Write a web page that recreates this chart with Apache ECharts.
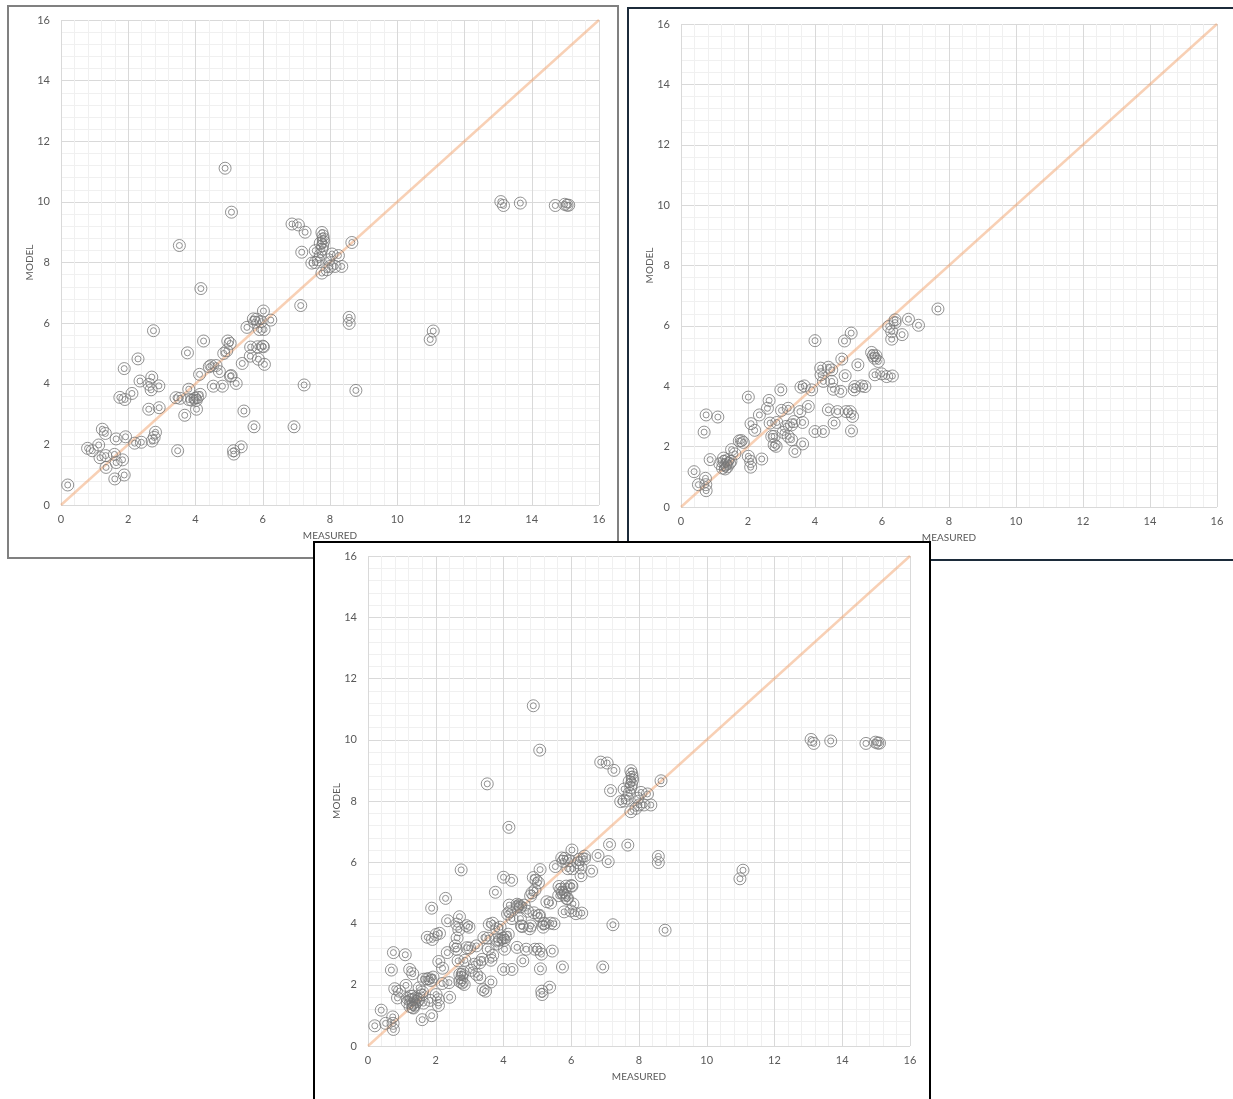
<!DOCTYPE html>
<html>
<head>
<meta charset="utf-8">
<script src="https://cdn.jsdelivr.net/npm/echarts@6/dist/echarts.min.js"></script>
<style>
  html, body { margin: 0; padding: 0; background: #ffffff; width: 1233px; height: 1099px; overflow: hidden; }
  .panel { position: absolute; box-sizing: border-box; background: #ffffff; }
  #p1 { left: 7px; top: 5px; width: 612px; height: 554px; border: 2px solid #808080; z-index: 1; }
  #p2 { left: 627px; top: 7px; width: 620px; height: 554px; border: 2px solid #1c2b3a; z-index: 1; }
  #p3 { left: 313px; top: 541px; width: 618px; height: 570px; border: 2px solid #000000; z-index: 2; }
</style>
</head>
<body>
<div id="p1" class="panel"></div>
<div id="p2" class="panel"></div>
<div id="p3" class="panel"></div>
<script>
// Tick labels (both axes)
const tickValues = [0, 2, 4, 6, 8, 10, 12, 14, 16];
const xTitle = 'MEASURED';
const yTitle = 'MODEL';
// 1:1 reference line
const lineData = [[0, 0], [16, 16]];

// Top-left panel: [measured, model]
const data1 = [
  [0.2,0.66],[0.79,1.87],[0.93,1.79],[1.12,1.98],[1.16,1.56],[1.23,2.5],[1.32,2.36],[1.33,1.63],[1.34,1.24],
  [1.59,1.67],[1.6,0.86],[1.64,1.4],[1.64,2.18],[1.83,1.49],[1.88,0.99],[1.88,4.5],[1.75,3.55],[1.9,3.48],
  [1.92,2.25],[2.11,3.68],[2.19,2.04],[2.29,4.82],[2.35,4.09],[2.39,2.07],[2.61,3.16],[2.62,3.98],[2.7,4.22],
  [2.68,3.8],[2.71,2.11],[2.75,5.75],[2.77,2.23],[2.81,2.4],[2.91,3.93],[2.92,3.21],[3.47,1.79],[3.42,3.54],
  [3.54,3.52],[3.68,2.96],[3.76,5.02],[3.8,3.82],[3.8,3.48],[3.89,3.46],[3.99,3.52],[4.03,3.16],[4.06,3.55],
  [4.14,3.65],[4.02,3.45],[4.12,4.31],[4.16,7.14],[4.24,5.41],[4.41,4.56],[4.46,4.6],[4.53,3.92],[4.61,4.6],
  [4.71,4.4],[4.8,3.92],[4.84,5.0],[4.93,5.09],[4.96,5.41],[5.03,5.33],[5.04,4.25],[5.06,4.27],[5.21,4.01],
  [5.13,1.79],[5.14,1.68],[5.36,1.92],[5.44,3.1],[5.39,4.67],[5.53,5.86],[5.63,4.91],[5.64,5.21],[5.72,6.14],
  [5.76,6.03],[5.82,6.13],[5.85,5.22],[5.87,4.81],[5.74,2.58],[5.9,5.79],[6.02,6.4],[6.04,5.79],[6.02,5.22],
  [6.05,4.64],[6.24,6.1],[5.95,6.05],[6.0,5.24],[6.93,2.58],[7.13,6.58],[7.23,3.96],[8.57,6.19],[8.57,5.99],
  [8.77,3.78],[11.07,5.74],[10.98,5.46],[4.88,11.11],[5.07,9.66],[3.52,8.56],[6.87,9.27],[7.06,9.24],[7.26,9.0],
  [7.16,8.34],[7.46,7.98],[7.56,8.0],[7.76,8.99],[7.79,8.88],[7.71,8.64],[7.81,8.69],[7.56,8.39],[7.76,8.44],
  [7.71,8.25],[8.06,8.28],[8.25,8.23],[7.66,8.09],[7.96,8.09],[8.0,7.87],[8.15,7.87],[8.35,7.87],[7.76,7.65],
  [7.91,7.76],[8.65,8.66],[7.78,8.55],[7.8,8.78],[13.08,10.01],[13.16,9.88],[13.66,9.96],[14.7,9.88],
  [14.98,9.92],[15.05,9.89],[15.1,9.89]
];

// Top-right panel: [measured, model]
const data2 = [
  [0.39,1.17],[0.52,0.74],[0.69,2.48],[0.75,3.05],[0.73,0.95],[0.74,0.74],[0.75,0.54],[0.87,1.57],[1.1,2.98],
  [1.16,1.43],[1.24,1.29],[1.29,1.51],[1.34,1.4],[1.41,1.57],[1.32,1.26],[1.27,1.62],[1.38,1.33],[1.45,1.45],
  [1.51,1.9],[1.61,1.76],[1.49,1.51],[1.74,2.19],[1.86,2.14],[1.8,2.2],[2.01,3.64],[2.01,1.68],[2.09,2.76],
  [2.08,1.51],[2.08,1.32],[2.2,2.54],[2.34,3.05],[2.41,1.59],[2.58,3.27],[2.63,3.53],[2.66,2.78],[2.71,2.34],
  [2.78,2.34],[2.78,2.06],[2.84,2.01],[2.86,2.8],[2.98,3.88],[3.0,3.2],[3.05,2.47],[3.14,2.67],[3.2,3.27],
  [3.2,2.34],[3.3,2.23],[3.3,2.72],[3.37,2.83],[3.4,1.84],[3.55,3.16],[3.58,3.97],[3.63,2.8],[3.63,2.09],
  [3.68,4.01],[3.8,3.33],[3.9,3.88],[4.0,5.51],[4.0,2.5],[4.25,2.5],[4.17,4.6],[4.18,4.38],[4.25,4.16],
  [4.4,3.22],[4.4,4.63],[4.5,4.54],[4.5,4.16],[4.55,3.9],[4.57,2.78],[4.67,3.16],[4.77,3.83],[4.8,4.9],
  [4.88,5.5],[4.9,4.35],[4.93,3.16],[5.08,5.76],[5.05,3.16],[5.12,3.0],[5.09,2.52],[5.17,3.88],[5.19,3.99],
  [5.28,4.71],[5.39,4.01],[5.49,3.99],[5.69,5.12],[5.74,5.01],[5.78,4.93],[5.82,5.01],[5.89,4.82],[5.79,4.38],
  [5.99,4.41],[6.14,4.32],[6.31,4.34],[6.2,5.98],[6.29,5.81],[6.29,5.56],[6.39,6.2],[6.39,6.11],[6.6,5.71],
  [6.79,6.22],[7.09,6.02],[7.67,6.56]
];

// Bottom panel: all points combined
const data3 = data1.concat(data2);

const FONT = 'Lato, "Open Sans", sans-serif';
const ringSymbol = 'path://M0,12A12,12,0,1,1,24,12A12,12,0,1,1,0,12Z M6,12A6,6,0,1,1,18,12A6,6,0,1,1,6,12Z';

function axis(name, isX) {
  return {
    type: 'value', min: 0, max: 16, interval: 2,
    name: name, nameLocation: 'middle', nameGap: isX ? 26 : 26,
    nameMoveOverlap: false,
    nameTextStyle: { color: '#595959', fontSize: 10, fontFamily: FONT },
    axisLine: { show: false }, axisTick: { show: false },
    axisLabel: { color: '#595959', fontSize: 11, fontFamily: FONT, margin: isX ? 9 : 11,
      formatter: v => tickValues.includes(v) ? String(v) : '' },
    splitLine: { show: true, lineStyle: { color: '#d9d9d9', width: 1 } },
    minorTick: { show: false, splitNumber: 5 },
    minorSplitLine: { show: true, lineStyle: { color: '#f0f0f0', width: 1 } }
  };
}

function makeChart(id, grid, points) {
  const chart = echarts.init(document.getElementById(id), null, { renderer: 'canvas' });
  chart.setOption({
    animation: false,
    backgroundColor: '#ffffff',
    grid: grid,
    xAxis: axis(xTitle, true),
    yAxis: axis(yTitle, false),
    series: [
      { type: 'line', data: lineData, symbol: 'none', z: 1,
        lineStyle: { color: 'rgba(240,150,90,0.45)', width: 2.5 } },
      { type: 'scatter', data: points, symbol: ringSymbol, symbolSize: 12, z: 2,
        itemStyle: { color: 'rgba(0,0,0,0)', borderColor: '#777777', borderWidth: 1 } }
    ]
  });
}

makeChart('p1', { left: 52, top: 13, width: 538, height: 485 }, data1);
makeChart('p2', { left: 52, top: 15, width: 536, height: 483 }, data2);
makeChart('p3', { left: 53, top: 13, width: 542, height: 490 }, data3);
</script>
</body>
</html>
